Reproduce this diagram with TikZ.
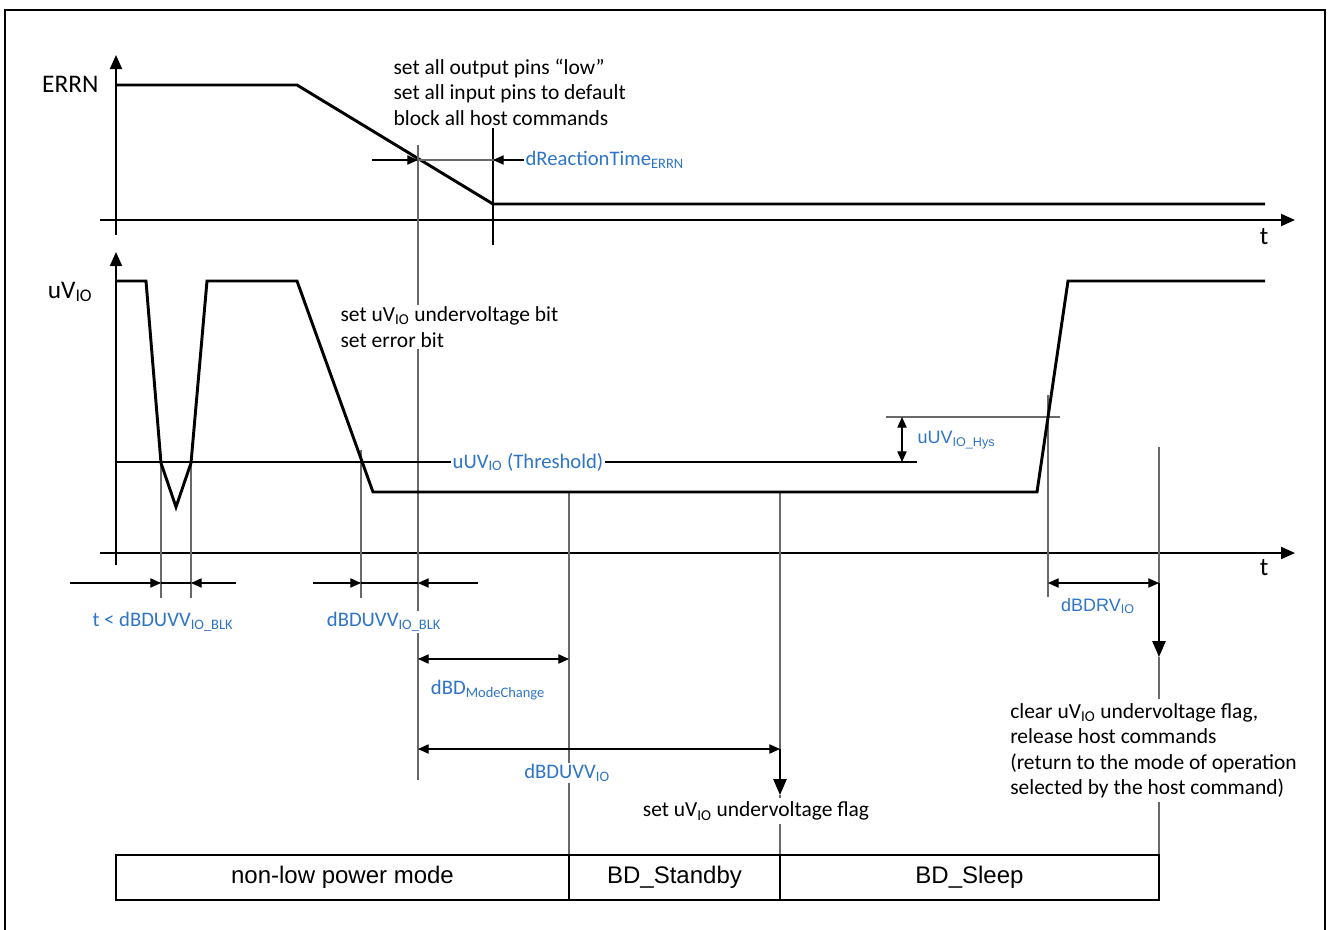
\documentclass[tikz,border=0pt]{standalone}
\usepackage{fontspec}
\setmainfont{Carlito}
\newfontfamily\arialfont{Liberation Sans}
\usepackage{tikz}
\usetikzlibrary{arrows.meta,positioning,calc}
\definecolor{LabelBlue}{RGB}{46,117,200}
\definecolor{GuideGray}{RGB}{105,105,105}

\begin{document}
\begin{tikzpicture}[x=0.75pt, y=-0.75pt,
  every node/.style={font=\fontsize{15.5}{19.1}\selectfont, inner sep=1pt},
  signal/.style={line width=2.2pt, line join=miter},
  axis/.style={line width=1.5pt, -{Triangle[length=10.5pt,width=9pt]}},
  guide/.style={GuideGray, line width=0.8pt},
  dim/.style={line width=0.8pt, -{Triangle[length=8pt,width=7pt]}},
  dimboth/.style={line width=0.8pt, {Triangle[length=8pt,width=7pt]}-{Triangle[length=8pt,width=7pt]}},
  bluelabel/.style={text=LabelBlue, fill=white},
  note/.style={font=\fontsize{16.1}{19.2}\selectfont, align=left},
  axislabel/.style={font=\fontsize{19}{22}\selectfont},
  modebox/.style={draw, line width=2.2pt, outer sep=0pt, minimum height=33.75pt, font=\arialfont\fontsize{18}{20}\selectfont}]
\useasboundingbox (0,0) rectangle (1329,929);
% frame
\draw[line width=1.6pt] (5,940) -- (5,10) -- (1325,10) -- (1325,940);

% ERRN panel
\draw[axis] (116,235) -- (116,55);
\draw[axis] (100,220) -- (1295,220);
\node[axislabel, anchor=east] (errnlbl) at (100,84) {ERRN};
\node[axislabel] (t1) at (1264,237) {t};
\draw[signal] (116,85) -- (297,85) -- (493,204) -- (1265,204);

% uV_IO panel
\draw[axis] (116,565) -- (116,252);
\draw[axis] (100,553) -- (1295,553);
\node[axislabel, anchor=east] (uvlbl) at (94,292) {uV\textsubscript{IO}};
\node[axislabel] (t2) at (1264,568) {t};

% guide lines
\draw[GuideGray, line width=1.3pt] (418,145) -- (418,780);
\draw[line width=0.8pt] (493,128) -- (493,245);
\draw[guide] (161,463) -- (161,598);
\draw[guide] (191,463) -- (191,598);
\draw[guide] (361,450) -- (361,598);
\draw[guide] (569,492) -- (569,855);
\draw[guide] (780,492) -- (780,749);
\draw[guide] (780,795) -- (780,855);
\draw[guide] (1048,395) -- (1048,597);
\draw[guide] (1159,447) -- (1159,583);
\draw[guide] (1159,657) -- (1159,855);

% threshold and hysteresis
\draw[line width=0.8pt] (116,462) -- (917,462);
\draw[guide] (886,417) -- (1060,417);
\draw[dimboth] (902,417) -- (902,462);
\node[bluelabel] (thr) at (528,462) {uUV\textsubscript{IO} (Threshold)};
\node[bluelabel, anchor=west, font=\arialfont\fontsize{13.5}{16}\selectfont] (hys) at (916,440) {uUV\textsubscript{IO\_Hys}};

\draw[signal] (116,281) -- (146,281) -- (161,463) -- (176,507) -- (191,463) -- (207,281) -- (297,281) -- (373,492) -- (1037,492) -- (1068,281) -- (1265,281);

% reaction time
\draw[GuideGray, line width=0.8pt] (372,160) -- (525,160);
\draw[dim] (372,160) -- (418,160);
\draw[dim] (525,160) -- (493,160);
\node[bluelabel, anchor=west] (react) at (524,160) {dReactionTime\textsubscript{ERRN}};

% blanking times
\draw[dim] (70,583) -- (161,583);
\draw[line width=0.8pt] (161,583) -- (191,583);
\draw[dim] (236,583) -- (191,583);
\draw[dim] (313,583) -- (361,583);
\draw[line width=0.8pt] (361,583) -- (418,583);
\draw[dim] (478,583) -- (418,583);
\node[bluelabel] (blkshort) at (163,622) {t < dBDUVV\textsubscript{IO\_BLK}};
\node[bluelabel] (blk) at (384,622) {dBDUVV\textsubscript{IO\_BLK}};

\draw[dimboth] (418,659) -- (569,659);
\node[bluelabel] (modechg) at (488,690) {dBD\textsubscript{ModeChange}};
\draw[dimboth] (418,749) -- (780,749);
\node[bluelabel] (uvv) at (567,773) {dBDUVV\textsubscript{IO}};
\draw[dimboth] (1048,583) -- (1159,583);
\node[bluelabel, font=\arialfont\fontsize{13.5}{16}\selectfont] (drv) at (1098,606) {dBDRV\textsubscript{IO}};

% flag arrows
\draw[line width=1.2pt, -{Triangle[length=12pt,width=10pt]}] (780,749) -- (780,795);
\draw[line width=1.2pt, -{Triangle[length=12pt,width=10pt]}] (1159,583) -- (1159,657);

% notes
\node[note, anchor=north west] (pinsnote) at (392,57) {set all output pins “low”\\set all input pins to default\\block all host commands};
\node[note, anchor=north west, fill=white] (bitnote) at (339,305) {set uV\textsubscript{IO} undervoltage bit\\set error bit};
\node[note, fill=white, inner sep=3pt] (flagnote) at (756,811) {set uV\textsubscript{IO} undervoltage flag};
\node[note, anchor=north west, fill=white, inner sep=3pt] (clearnote) at (1006,699) {clear uV\textsubscript{IO} undervoltage flag,\\release host commands\\(return to the mode of operation\\selected by the host command)};

% modes
\node[modebox, anchor=north west, minimum width=339.75pt] (nonlp) at (116,855) {non-low power mode};
\node[modebox, right=0pt of nonlp, minimum width=158.25pt] (standby) {BD\_Standby};
\node[modebox, right=0pt of standby, minimum width=284.25pt] (sleep) {BD\_Sleep};
\end{tikzpicture}
\end{document}
